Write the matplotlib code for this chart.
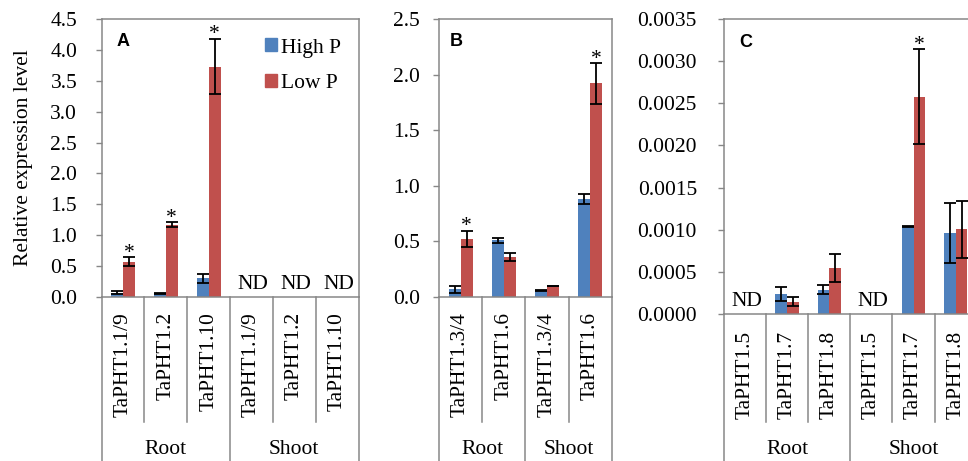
import matplotlib
matplotlib.use('Agg')
import matplotlib.pyplot as plt
import numpy as np
from matplotlib.transforms import blended_transform_factory
from matplotlib.patches import Patch

plt.rcParams['font.family'] = 'Liberation Serif'

nan = np.nan
groups = ['Root', 'Shoot']

# panel A
genes_a = ['TaPHT1.1/9', 'TaPHT1.2', 'TaPHT1.10']
high_a = [0.07, 0.06, 0.30, nan, nan, nan]
high_a_err = [0.02, 0.01, 0.065, nan, nan, nan]
low_a = [0.57, 1.17, 3.73, nan, nan, nan]
low_a_err = [0.07, 0.04, 0.45, nan, nan, nan]
star_a = [1, 1, 1, 0, 0, 0]

# panel B
genes_b = ['TaPHT1.3/4', 'TaPHT1.6']
high_b = [0.07, 0.51, 0.06, 0.88]
high_b_err = [0.03, 0.02, 0.005, 0.043]
low_b = [0.525, 0.36, 0.10, 1.92]
low_b_err = [0.072, 0.04, 0.003, 0.18]
star_b = [1, 0, 0, 1]

# panel C
genes_c = ['TaPHT1.5', 'TaPHT1.7', 'TaPHT1.8']
high_c = [nan, 0.00024, 0.00029, nan, 0.00104, 0.00096]
high_c_err = [nan, 0.000085, 0.000055, nan, 0.000003, 0.00036]
low_c = [nan, 0.000146, 0.000545, nan, 0.00258, 0.001003]
low_c_err = [nan, 0.000055, 0.000166, nan, 0.00056, 0.00034]
star_c = [0, 0, 0, 0, 1, 0]

BLUE = '#4F81BD'
RED = '#C0504D'
GRAY = '#878787'
FS = 15.5

fig = plt.figure(figsize=(9.68, 4.61), dpi=100)


def panel(rect, genes, high, high_err, low, low_err, stars, ymax, step, fmt,
          letter, lab_top, pad):
    ax = fig.add_axes(rect)
    cats = genes * 2
    n = len(cats)
    x = np.arange(n)
    w = 0.28
    ekw = dict(ecolor='black', elinewidth=1.3, capthick=1.3)
    ax.bar(x - w / 2, high, w, color=BLUE, yerr=high_err, capsize=4, error_kw=ekw)
    ax.bar(x + w / 2, low, w, color=RED, yerr=low_err, capsize=4, error_kw=ekw)
    for i in range(n):
        if np.isnan(high[i]):
            ax.annotate('ND', (i, 0), xytext=(1, 2), textcoords='offset points',
                        ha='center', va='bottom', fontsize=FS)
        if stars[i]:
            ax.annotate('*', (i + w / 2, low[i] + low_err[i]), xytext=(0, -4),
                        textcoords='offset points', ha='center', va='bottom',
                        fontsize=FS)
    ax.set_xlim(-0.5, n - 0.5)
    ax.set_ylim(0, ymax)
    ticks = np.arange(0, ymax + step / 2, step)
    ax.set_yticks(ticks)
    ax.set_yticklabels([fmt % t for t in ticks], fontsize=FS)
    ax.tick_params(axis='x', length=0, labelbottom=False)
    ax.tick_params(axis='y', direction='out', length=4.5, width=1, color=GRAY,
                   pad=pad)
    for s in ax.spines.values():
        s.set_color(GRAY)
        s.set_linewidth(1.1)
    ax.text(0.06, 0.92, letter, transform=ax.transAxes, fontsize=13,
            fontweight='bold', family='Liberation Sans', va='center')

    tr = blended_transform_factory(ax.transData, fig.transFigure)
    bottom = rect[1]
    ng = len(genes)
    for i in range(n + 1):
        y_end = 0 if i % ng == 0 else 0.085
        ax.plot([i - 0.5, i - 0.5], [bottom, y_end], transform=tr, color=GRAY,
                lw=1.1, clip_on=False)
    for i, c in enumerate(cats):
        ax.text(i, lab_top, c, transform=tr, rotation=90, ha='center',
                va='top', fontsize=FS)
    for g, name in enumerate(groups):
        ax.text(g * ng + (ng - 1) / 2, 0.025, name, transform=tr, ha='center',
                va='center', fontsize=FS)
    return ax


ax_a = panel([0.1049, 0.3557, 0.2655, 0.6031], genes_a, high_a, high_a_err,
             low_a, low_a_err, star_a, 4.5, 0.5, '%.1f', 'A', 0.323, 13)
ax_a.set_ylabel('Relative expression level', fontsize=FS)
ax_a.yaxis.set_label_coords(-0.265, 0.5)
ax_a.legend(handles=[Patch(color=BLUE, label='High P'),
                     Patch(color=RED, label='Low P')],
            loc='upper left', bbox_to_anchor=(0.635, 0.93), frameon=False,
            fontsize=FS, handlelength=0.55, handleheight=0.55,
            handletextpad=0.2, labelspacing=0.75, borderpad=0,
            borderaxespad=0)

panel([0.4535, 0.3557, 0.1787, 0.6031], genes_b, high_b, high_b_err,
      low_b, low_b_err, star_b, 2.5, 0.5, '%.1f', 'B', 0.323, 9)

panel([0.7480, 0.3189, 0.2610, 0.6399], genes_c, high_c, high_c_err,
      low_c, low_c_err, star_c, 0.0035, 0.0005, '%.4f', 'C', 0.283, 15)

fig.savefig('out.png', dpi=100)
